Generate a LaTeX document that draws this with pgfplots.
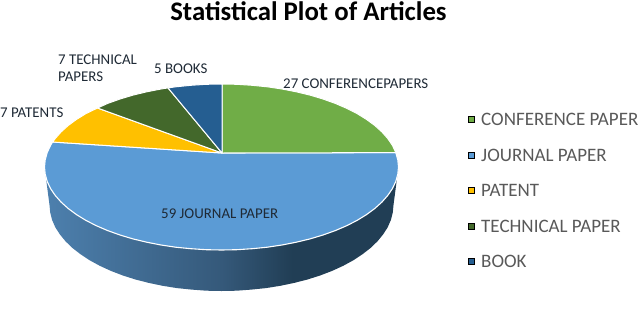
\documentclass[border=0pt]{standalone}
\usepackage{fontspec}
\setmainfont{Carlito}
\usepackage{pgfplots}
\pgfplotsset{compat=1.18}
\definecolor{cGreen}{HTML}{70AD47}
\definecolor{cBlue}{HTML}{5B9BD5}
\definecolor{cYellow}{HTML}{FFC000}
\definecolor{cDark}{HTML}{43682B}
\definecolor{cNavy}{HTML}{255E91}
\definecolor{cText}{HTML}{595959}
\definecolor{cLab}{HTML}{1F2A36}
\definecolor{sideA}{HTML}{4D80AE}
\definecolor{sideB}{HTML}{35597A}
\definecolor{sideC}{HTML}{213E55}
\pgfdeclarehorizontalshading{sideshade}{100bp}{color(0bp)=(sideA); color(25bp)=(sideA); color(50bp)=(sideB); color(60bp)=(sideC); color(100bp)=(sideC)}
\begin{document}
\begin{tikzpicture}
\begin{axis}[
  width=640pt,height=319pt,scale only axis,
  xmin=0,xmax=640,ymin=0,ymax=319,y dir=reverse,
  axis lines=none,clip=false,
]
\path (axis cs:0,0) rectangle (axis cs:640,319);
% side of the pie
\addplot[shade,shading=sideshade,draw=none] coordinates {
(44.5,167)(49.5,205)(50.2,212.5)(52.1,219.9)(55.3,227.3)(59.9,234.4)(65.6,241.4)(72.5,248)(80.6,254.3)(89.7,260.3)(99.8,265.8)(110.9,270.9)(122.9,275.5)(135.5,279.5)(148.8,282.9)(162.7,285.8)(177,288.1)(191.7,289.6)(206.5,290.7)(221.5,291)
(236.5,290.7)(251.3,289.6)(266,288.1)(280.3,285.8)(294.2,282.9)(307.5,279.5)(320.1,275.5)(332.1,270.9)(343.2,265.8)(353.3,260.3)(362.4,254.3)(370.5,248)(377.4,241.4)(383.1,234.4)(387.7,227.3)(390.9,219.9)(392.8,212.5)(393.5,205)(398.5,167)
} -- cycle;
% journal
\addplot[fill=cBlue,draw=white,line width=1.1pt,line join=round] coordinates {
(222,153)(395.8,152.6)(397.8,159.8)(398.5,167)(397.8,174.2)(395.8,181.4)(392.5,188.5)(387.8,195.4)(381.9,202.1)(374.8,208.5)(366.5,214.6)(357.1,220.4)(346.7,225.7)(335.3,230.6)(323,235)(310,238.9)(296.3,242.2)(282,245)(267.3,247.2)(252.2,248.7)(236.9,249.7)(221.5,250)
(206.1,249.7)(190.8,248.7)(175.7,247.2)(161,245)(146.7,242.2)(133,238.9)(120,235)(107.7,230.6)(96.3,225.7)(85.9,220.4)(76.5,214.6)(68.2,208.5)(61.1,202.1)(55.2,195.4)(50.5,188.5)(47.2,181.4)(45.2,174.2)(44.5,167)(45.2,159.8)(47.2,152.6)(50.5,145.5)(52.6,142)
} -- cycle;
% conference
\addplot[fill=cGreen,draw=white,line width=1pt,line join=round] coordinates {
(222,153)(222,84)(236.9,84.3)(252.2,85.3)(267.3,86.8)(282,89)(296.3,91.8)(310,95.1)(323,99)(335.3,103.4)(346.7,108.3)(357.1,113.6)(366.5,119.4)(374.8,125.5)(381.9,131.9)(387.8,138.6)(392.5,145.5)(395.8,152.6)
} -- cycle;
% patent
\addplot[fill=cYellow,draw=white,line width=1pt,line join=round] coordinates {
(222,153)(52.6,142)(55.2,138.6)(61.1,131.9)(68.2,125.5)(76.5,119.4)(85.9,113.6)(97.5,108)
} -- cycle;
% technical
\addplot[fill=cDark,draw=white,line width=1pt,line join=round] coordinates {
(222,153)(97.5,108)(107.7,103.4)(120,99)(133,95.1)(146.7,91.8)(161,89)(168,87.9)
} -- cycle;
% book
\addplot[fill=cNavy,draw=white,line width=1pt,line join=round] coordinates {
(222,153)(168,87.9)(175.7,86.8)(190.8,85.3)(206.1,84.3)(222,84)
} -- cycle;
% legend keys
\addplot[only marks,mark=square*,mark size=3pt,mark options={draw=none,fill=cGreen}] coordinates {(471,119.5)};
\addplot[only marks,mark=square*,mark size=3pt,mark options={draw=none,fill=cBlue}] coordinates {(471,155)};
\addplot[only marks,mark=square*,mark size=3pt,mark options={draw=none,fill=cYellow}] coordinates {(471,190.5)};
\addplot[only marks,mark=square*,mark size=3pt,mark options={draw=none,fill=cDark}] coordinates {(471,226)};
\addplot[only marks,mark=square*,mark size=3pt,mark options={draw=none,fill=cNavy}] coordinates {(471,261.5)};
% legend text
\node[anchor=west,inner sep=0pt,text=cText,font=\fontsize{19}{20}\selectfont] at (axis cs:481,119) {CONFERENCE PAPER};
\node[anchor=west,inner sep=0pt,text=cText,font=\fontsize{19}{20}\selectfont] at (axis cs:481,155) {JOURNAL PAPER};
\node[anchor=west,inner sep=0pt,text=cText,font=\fontsize{19}{20}\selectfont] at (axis cs:481,190) {PATENT};
\node[anchor=west,inner sep=0pt,text=cText,font=\fontsize{19}{20}\selectfont] at (axis cs:481,226) {TECHNICAL PAPER};
\node[anchor=west,inner sep=0pt,text=cText,font=\fontsize{19}{20}\selectfont] at (axis cs:481,261) {BOOK};
% title
\node[anchor=center,inner sep=0pt,font=\fontsize{26.8}{30}\selectfont\bfseries] at (axis cs:308.5,11) {Statistical Plot of Articles};
% labels
\node[anchor=west,inner sep=0pt,text=cLab,font=\fontsize{14.9}{16}\selectfont] at (axis cs:283,84) {27 CONFERENCEPAPERS};
\node[anchor=west,inner sep=0pt,text=cLab,font=\fontsize{14.9}{16}\selectfont] at (axis cs:154,69) {5 BOOKS};
\node[anchor=west,inner sep=0pt,text=cLab,font=\fontsize{14.9}{16}\selectfont] at (axis cs:58,60) {7 TECHNICAL};
\node[anchor=west,inner sep=0pt,text=cLab,font=\fontsize{14.9}{16}\selectfont] at (axis cs:58,77) {PAPERS};
\node[anchor=west,inner sep=0pt,text=cLab,font=\fontsize{14.9}{16}\selectfont] at (axis cs:0,113) {7 PATENTS};
\node[anchor=west,inner sep=0pt,text=cLab,font=\fontsize{14.9}{16}\selectfont] at (axis cs:161,214) {59 JOURNAL PAPER};
\end{axis}
\end{tikzpicture}
\end{document}
